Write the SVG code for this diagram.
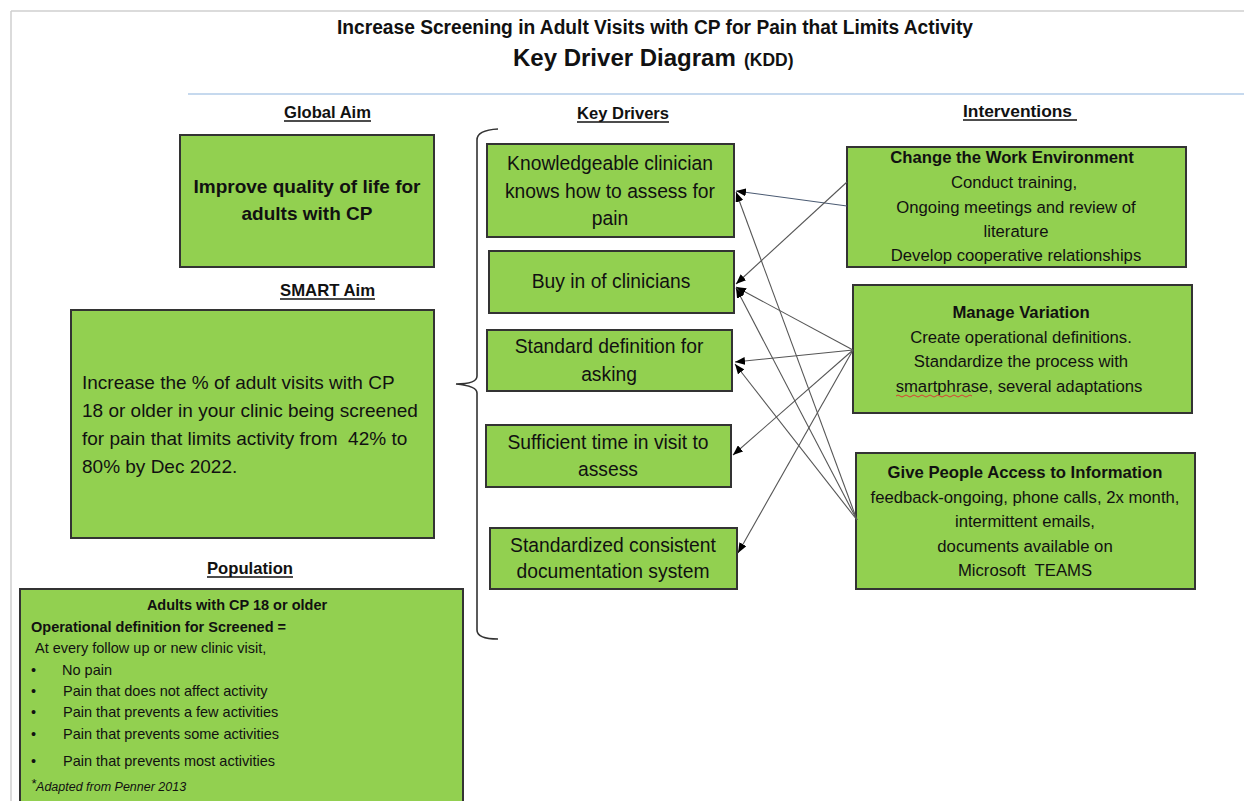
<svg xmlns="http://www.w3.org/2000/svg" width="1244" height="801" viewBox="0 0 1244 801">
<style>
.box{fill:#92D050;stroke:#333;stroke-width:2}
text{font-family:"Liberation Sans",Arial,sans-serif;fill:#111}
.hdr{font-size:17px;font-weight:bold}
.ul{stroke:#111;stroke-width:1.5}
.kd{font-size:19.3px;text-anchor:middle}
.it{font-size:16.7px;text-anchor:middle}
.itb{font-size:16.7px;font-weight:bold;text-anchor:middle}
.pop{font-size:14.5px}
.popb{font-size:14.5px;font-weight:bold}
.con{fill:none;stroke:#555;stroke-width:1.1}
</style>
<defs>
<marker id="arr" viewBox="0 0 10 8" refX="10" refY="4" markerWidth="10" markerHeight="8" markerUnits="userSpaceOnUse" orient="auto">
<path d="M0,0 L10,4 L0,8 Z" fill="#000"/>
</marker>
</defs>
<rect width="1244" height="801" fill="#fff"/>
<g id="page-frame">
<line x1="11" y1="11" x2="1244" y2="11" stroke="#cfcfcf" stroke-width="1.5"/>
<line x1="11" y1="11" x2="11" y2="801" stroke="#cfcfcf" stroke-width="1.5"/>
<line x1="188" y1="94" x2="1244" y2="94" stroke="#c6d9ee" stroke-width="2"/>
</g>
<g id="title">
<text x="655" y="34" font-size="20" font-weight="bold" text-anchor="middle" textLength="636" lengthAdjust="spacingAndGlyphs">Increase Screening in Adult Visits with CP for Pain that Limits Activity</text>
<text x="513" y="66" font-size="24" font-weight="bold">Key Driver Diagram</text>
<text x="744" y="66" font-size="17.5" font-weight="bold">(KDD)</text>
</g>
<g id="headers">
<text class="hdr" x="284" y="118" textLength="87" lengthAdjust="spacingAndGlyphs">Global Aim</text>
<line class="ul" x1="284" y1="121" x2="371" y2="121"/>
<text class="hdr" x="577" y="119" textLength="92" lengthAdjust="spacingAndGlyphs">Key Drivers</text>
<line class="ul" x1="577" y1="122" x2="669" y2="122"/>
<text class="hdr" x="963" y="117" textLength="109" lengthAdjust="spacingAndGlyphs">Interventions</text>
<line class="ul" x1="963" y1="120" x2="1077" y2="120"/>
<text class="hdr" x="280" y="296" textLength="95" lengthAdjust="spacingAndGlyphs">SMART Aim</text>
<line class="ul" x1="280" y1="299" x2="375" y2="299"/>
<text class="hdr" x="207" y="574" textLength="86" lengthAdjust="spacingAndGlyphs">Population</text>
<line class="ul" x1="207" y1="577" x2="293" y2="577"/>
</g>
<g id="global-aim">
<rect class="box" x="180" y="135" width="254" height="132"/>
<text x="307" y="193" font-size="19" font-weight="bold" text-anchor="middle">Improve quality of life for</text>
<text x="307" y="220" font-size="19" font-weight="bold" text-anchor="middle">adults with CP</text>
</g>
<g id="smart-aim">
<rect class="box" x="71" y="310" width="363" height="228"/>
<text x="82" y="389" font-size="19">Increase the % of adult visits with CP</text>
<text x="82" y="417" font-size="19">18 or older in your clinic being screened</text>
<text x="82" y="445" font-size="19" xml:space="preserve">for pain that limits activity from  42% to</text>
<text x="82" y="473" font-size="19">80% by Dec 2022.</text>
</g>
<g id="population">
<rect class="box" x="20" y="589" width="443" height="220"/>
<text class="popb" x="237" y="610" text-anchor="middle">Adults with CP 18 or older</text>
<text class="popb" x="31" y="632">Operational definition for Screened =</text>
<text class="pop" x="35" y="653">At every follow up or new clinic visit,</text>
<text class="pop" x="31" y="675">•</text><text class="pop" x="62" y="675">No pain</text>
<text class="pop" x="31" y="696">•</text><text class="pop" x="63" y="696">Pain that does not affect activity</text>
<text class="pop" x="31" y="717">•</text><text class="pop" x="63" y="717">Pain that prevents a few activities</text>
<text class="pop" x="31" y="739">•</text><text class="pop" x="63" y="739">Pain that prevents some activities</text>
<text class="pop" x="31" y="766">•</text><text class="pop" x="63" y="766">Pain that prevents most activities</text>
<text x="31" y="791" font-size="12.5" font-style="italic"><tspan font-size="13" dy="-3">*</tspan><tspan dy="3">Adapted from Penner 2013</tspan></text>
</g>
<g id="brace">
<path d="M498,129 Q477,130 477,140 L477,376 Q477,384 456,384 Q477,386 477,393 L477,630 Q477,639 498,639" fill="none" stroke="#333" stroke-width="1.6"/>
</g>
<g id="kd1">
<rect class="box" x="487" y="144" width="247" height="93"/>
<text class="kd" x="610" y="170">Knowledgeable clinician</text>
<text class="kd" x="610" y="197.5">knows how to assess for</text>
<text class="kd" x="610" y="225">pain</text>
</g>
<g id="kd2">
<rect class="box" x="489" y="251" width="245" height="62"/>
<text class="kd" x="611" y="288">Buy in of clinicians</text>
</g>
<g id="kd3">
<rect class="box" x="487" y="330" width="245" height="61"/>
<text class="kd" x="609" y="353">Standard definition for</text>
<text class="kd" x="609" y="381">asking</text>
</g>
<g id="kd4">
<rect class="box" x="486" y="425" width="245" height="62"/>
<text class="kd" x="608" y="449">Sufficient time in visit to</text>
<text class="kd" x="608" y="476">assess</text>
</g>
<g id="kd5">
<rect class="box" x="490" y="528" width="247" height="61"/>
<text class="kd" x="613" y="552">Standardized consistent</text>
<text class="kd" x="613" y="578">documentation system</text>
</g>
<g id="int-change-work-environment">
<rect class="box" x="847" y="147" width="339" height="120"/>
<text class="itb" x="1012" y="163">Change the Work Environment</text>
<text class="it" x="1014" y="188">Conduct training,</text>
<text class="it" x="1016" y="213">Ongoing meetings and review of</text>
<text class="it" x="1016" y="237">literature</text>
<text class="it" x="1016" y="261">Develop cooperative relationships</text>
</g>
<g id="int-manage-variation">
<rect class="box" x="853" y="285" width="339" height="128"/>
<text class="itb" x="1021" y="318">Manage Variation</text>
<text class="it" x="1021" y="343">Create operational definitions.</text>
<text class="it" x="1021" y="367">Standardize the process with</text>
<text class="it" x="1019" y="392">smartphrase, several adaptations</text>
<path d="M896,396 q2,-2 4,0 t4,0 t4,0 t4,0 t4,0 t4,0 t4,0 t4,0 t4,0 t4,0 t4,0 t4,0 t4,0 t4,0 t4,0 t4,0 t4,0 t4,0 t4,0" fill="none" stroke="#e03030" stroke-width="0.9"/>
</g>
<g id="int-give-access">
<rect class="box" x="856" y="453" width="339" height="136"/>
<text class="itb" x="1025" y="478">Give People Access to Information</text>
<text class="it" x="1025" y="503">feedback-ongoing, phone calls, 2x month,</text>
<text class="it" x="1025" y="527">intermittent emails,</text>
<text class="it" x="1025" y="552">documents available on</text>
<text class="it" x="1025" y="576" xml:space="preserve">Microsoft  TEAMS</text>
</g>
<g id="connectors">
<line class="con" x1="847" y1="206" x2="736" y2="191" style="stroke:#4a5a72" marker-end="url(#arr)"/>
<line class="con" x1="847" y1="182" x2="736" y2="284" marker-end="url(#arr)"/>
<line class="con" x1="853" y1="350" x2="736" y2="287" marker-end="url(#arr)"/>
<line class="con" x1="853" y1="350" x2="735" y2="362" marker-end="url(#arr)"/>
<line class="con" x1="853" y1="350" x2="733" y2="455" marker-end="url(#arr)"/>
<line class="con" x1="853" y1="350" x2="738" y2="553" marker-end="url(#arr)"/>
<line class="con" x1="857" y1="520" x2="736" y2="192" marker-end="url(#arr)"/>
<line class="con" x1="857" y1="520" x2="736" y2="288" marker-end="url(#arr)"/>
<line class="con" x1="857" y1="520" x2="735" y2="364" marker-end="url(#arr)"/>
</g>
</svg>
